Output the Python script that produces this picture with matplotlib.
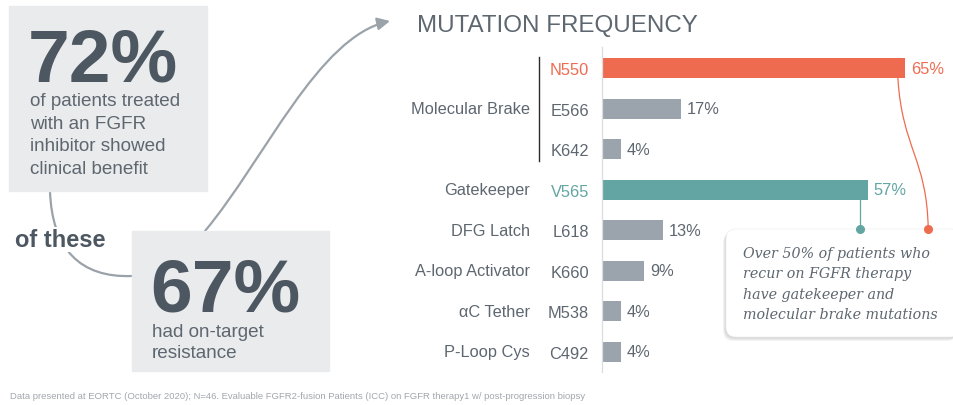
import numpy as np
import matplotlib
matplotlib.use("Agg")
import matplotlib.pyplot as plt
from matplotlib.patches import Rectangle, FancyBboxPatch, FancyArrowPatch
from matplotlib.path import Path
from matplotlib.transforms import blended_transform_factory

plt.rcParams['font.family'] = ['Liberation Sans', 'DejaVu Sans']

# data
mutations = ["N550", "E566", "K642", "V565", "L618", "K660", "M538", "C492"]
frequency = [65, 17, 4, 57, 13, 9, 4, 4]
mutation_group = ["Molecular Brake", "Molecular Brake", "Molecular Brake",
                  "Gatekeeper", "DFG Latch", "A-loop Activator", "αC Tether", "P-Loop Cys"]
benefit_pct = 72
resistance_pct = 67

CORAL = '#EF6B50'
TEAL = '#63A5A3'
GRAY = '#9BA4AD'
TEXT = '#5E6770'
DARK = '#4C5761'
BOX = '#E9EBED'
CURVE = '#9AA2AA'
highlight = {"N550": CORAL, "V565": TEAL}

W, H = 954, 406
fig = plt.figure(figsize=(W / 100, H / 100), dpi=100)


def frame(x0, y0, x1, y1):
    return [x0 / W, 1 - y1 / H, (x1 - x0) / W, (y1 - y0) / H]


# bar chart
ax = fig.add_axes(frame(602, 48, 954, 373))
rows = np.arange(len(mutations))
colors = [highlight.get(m, GRAY) for m in mutations]
ax.barh(rows, frequency, height=0.49, color=colors)
ax.set_xlim(0, 352 / 4.66)
ax.set_ylim(7 + 20 / 40.57, -21 / 40.57)
for s in ['top', 'right', 'bottom']:
    ax.spines[s].set_visible(False)
ax.spines['left'].set_color('#DADDE0')
ax.spines['left'].set_linewidth(0.9)
ax.set_xticks([])
ax.set_yticks(rows)
ax.set_yticklabels(mutations, fontsize=11.8)
ax.tick_params(axis='y', length=0, pad=9.4)
for lbl, m in zip(ax.get_yticklabels(), mutations):
    lbl.set_color(highlight.get(m, TEXT))

for i, v in enumerate(frequency):
    ax.text(v + 6 / 4.66, i, f"{v}%", va='center', ha='left', fontsize=11.8,
            color=highlight.get(mutations[i], TEXT))

# group labels + bracket
btr = blended_transform_factory(ax.transAxes, ax.transData)
groups = list(dict.fromkeys(mutation_group))
for g in groups:
    idx = [i for i, gg in enumerate(mutation_group) if gg == g]
    ax.text(-0.2045, np.mean(idx), g, transform=btr, ha='right', va='center',
            fontsize=11.8, color=TEXT)
    if len(idx) > 1:
        ax.plot([-0.179, -0.179], [idx[0] - 0.27, idx[-1] + 0.29], transform=btr,
                color='#2b2b2b', lw=1.0, clip_on=False)

# overlay in pixel coordinates
ov = fig.add_axes([0, 0, 1, 1])
ov.set_xlim(0, W)
ov.set_ylim(H, 0)
ov.axis('off')


def to_px(x, y):
    return ov.transData.inverted().transform(ax.transData.transform((x, y)))


ov.text(417, 32, "MUTATION FREQUENCY", fontsize=17.4, color=TEXT, va='baseline')

# left panel
ov.add_patch(Rectangle((9, 7), 198, 185, color=BOX, zorder=2))
ov.add_patch(Rectangle((132, 232), 197, 140, color=BOX, zorder=2))
ov.text(28, 82, f"{benefit_pct}%", fontsize=54, fontweight='bold', color=DARK,
        va='baseline', zorder=3)
for k, line in enumerate(["of patients treated", "with an FGFR",
                          "inhibitor showed", "clinical benefit"]):
    ov.text(30, 106 + k * 22.7, line, fontsize=13.6, color=TEXT, va='baseline', zorder=3)
ov.text(150, 312, f"{resistance_pct}%", fontsize=54, fontweight='bold', color=DARK,
        va='baseline', zorder=3)
for k, line in enumerate(["had on-target", "resistance"]):
    ov.text(152, 337 + k * 21.5, line, fontsize=13.6, color=TEXT, va='baseline', zorder=3)

c1 = Path([(50, 192), (52, 250), (80, 279), (132, 277)],
          [Path.MOVETO, Path.CURVE4, Path.CURVE4, Path.CURVE4])
ov.add_patch(FancyArrowPatch(path=c1, arrowstyle='-', color=CURVE, lw=1.6, zorder=1))
ov.text(15, 247, "of these", fontsize=17, fontweight='bold', color=DARK, va='baseline',
        zorder=3, bbox=dict(facecolor='white', edgecolor='none', pad=1))

c2 = Path([(205, 232), (265, 160), (318, 38), (390, 22)],
          [Path.MOVETO, Path.CURVE4, Path.CURVE4, Path.CURVE4])
ov.add_patch(FancyArrowPatch(path=c2, arrowstyle='-|>,head_length=0.5,head_width=0.25',
                             mutation_scale=15, color=CURVE, lw=1.6, zorder=1))

# callout
bx, by, bw, bh = 726, 230, 234, 108
for k in range(1, 6):
    ov.add_patch(FancyBboxPatch((bx - k * 0.6, by + k * 0.8), bw, bh,
                                boxstyle='round,pad=0,rounding_size=10',
                                facecolor='#000000', edgecolor='none', alpha=0.035, zorder=4))
ov.add_patch(FancyBboxPatch((bx, by), bw, bh, boxstyle='round,pad=0,rounding_size=10',
                            facecolor='white', edgecolor='#EEEEEE', lw=0.5, zorder=5))
for k, line in enumerate(["Over 50% of patients who", "recur on FGFR therapy",
                          "have gatekeeper and", "molecular brake mutations"]):
    ov.text(743, 258 + k * 20.3, line, fontsize=10.3, family='DejaVu Serif',
            style='italic', color=TEXT, va='baseline', zorder=6)

# connectors
dot_row = 3.97
red0 = to_px(63.5, 0.245)
red1 = to_px(70, dot_row)
c3 = Path([tuple(red0), (red0[0] + 4, red0[1] + 70), (red1[0] - 1, red1[1] - 70), tuple(red1)],
          [Path.MOVETO, Path.CURVE4, Path.CURVE4, Path.CURVE4])
ov.add_patch(FancyArrowPatch(path=c3, arrowstyle='-', color=CORAL, lw=0.9, zorder=6))
teal0 = to_px(55.3, 3.245)
teal1 = to_px(55.3, dot_row)
ov.plot([teal0[0], teal1[0]], [teal0[1], teal1[1]], color=TEAL, lw=0.9, zorder=6)
ov.plot([teal1[0]], [teal1[1]], 'o', color=TEAL, ms=5.5, zorder=7)
ov.plot([red1[0]], [red1[1]], 'o', color=CORAL, ms=5.5, zorder=7)

ov.text(10, 399, "Data presented at EORTC (October 2020); N=46. Evaluable FGFR2-fusion "
        "Patients (ICC) on FGFR therapy1 w/ post-progression biopsy",
        fontsize=6.8, color='#A2A7AC', va='baseline')

fig.savefig('out.png', dpi=100)
